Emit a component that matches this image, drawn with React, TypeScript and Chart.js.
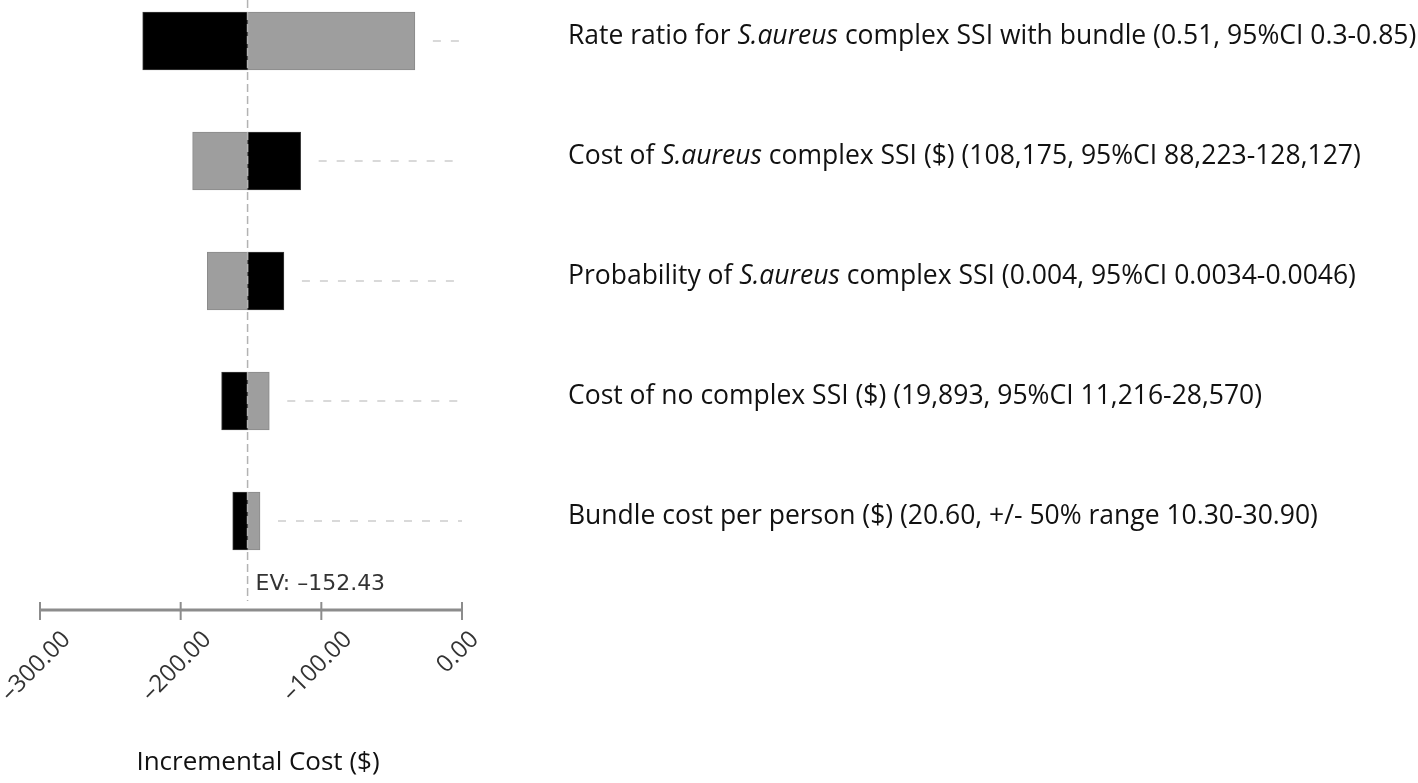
import React, { useEffect, useRef } from "react";
import { Chart, registerables } from "chart.js";

Chart.register(...registerables);

// ---- data ----
const categories: string[] = [
  "Rate ratio for *S.aureus* complex SSI with bundle (0.51, 95%CI 0.3-0.85)",
  "Cost of *S.aureus* complex SSI ($) (108,175, 95%CI 88,223-128,127)",
  "Probability of *S.aureus* complex SSI (0.004, 95%CI 0.0034-0.0046)",
  "Cost of no complex SSI ($) (19,893, 95%CI 11,216-28,570)",
  "Bundle cost per person ($) (20.60, +/- 50% range 10.30-30.90)",
];
const expectedValue = -152.43;
const blackEnds: number[] = [-227, -114.7, -126.6, -170.9, -163];
const grayEnds: number[] = [-33.5, -191.5, -181.1, -137, -143.6];
const tickValues: number[] = [-300, -200, -100, 0];
const axisTitle = "Incremental Cost ($)";

const LABEL_FONT = "'Open Sans', Lato, sans-serif";

function fmt(v: number): string {
  const s = Math.abs(v).toFixed(2);
  return v < 0 ? "\u2013" + s : s;
}

const overlay = {
  id: "tornadoOverlay",
  afterDatasetsDraw(chart: any) {
    const ctx: CanvasRenderingContext2D = chart.ctx;
    const xs = chart.scales.x;
    const ys = chart.scales.y;
    const evX = xs.getPixelForValue(expectedValue);
    const axisY = 610;
    ctx.save();

    // dashed guide lines to the right of each bar
    ctx.strokeStyle = "#d9d9d9";
    ctx.lineWidth = 2;
    ctx.setLineDash([8, 10]);
    categories.forEach((_, i) => {
      const y = ys.getPixelForValue(i);
      const right = Math.max(
        xs.getPixelForValue(blackEnds[i]),
        xs.getPixelForValue(grayEnds[i]),
        evX
      );
      ctx.beginPath();
      ctx.moveTo(right + 18, y);
      ctx.lineTo(xs.getPixelForValue(0), y);
      ctx.stroke();
    });

    // EV vertical dashed line
    ctx.strokeStyle = "#b3b3b3";
    ctx.lineWidth = 1.5;
    ctx.setLineDash([8, 4]);
    ctx.beginPath();
    ctx.moveTo(evX, 0);
    ctx.lineTo(evX, 601);
    ctx.stroke();
    ctx.setLineDash([]);

    // axis line and ticks
    ctx.strokeStyle = "#8c8c8c";
    ctx.lineWidth = 3;
    ctx.beginPath();
    ctx.moveTo(xs.getPixelForValue(tickValues[0]), axisY);
    ctx.lineTo(xs.getPixelForValue(tickValues[tickValues.length - 1]), axisY);
    ctx.stroke();
    ctx.lineWidth = 2;
    tickValues.forEach((v) => {
      const x = xs.getPixelForValue(v);
      ctx.beginPath();
      ctx.moveTo(x, axisY - 8);
      ctx.lineTo(x, axisY + 10);
      ctx.stroke();
    });

    // rotated tick labels
    ctx.fillStyle = "#333";
    ctx.font = `24px ${LABEL_FONT}`;
    ctx.textAlign = "center";
    ctx.textBaseline = "middle";
    tickValues.forEach((v) => {
      const x = xs.getPixelForValue(v);
      const t = fmt(v);
      const L = ctx.measureText(t).width;
      const H = 16;
      const half = (L + H) / (2 * Math.SQRT2);
      ctx.save();
      ctx.translate(x - 4, 630 + half);
      ctx.rotate(-Math.PI / 4);
      ctx.fillText(t, 0, 0);
      ctx.restore();
    });

    // EV label
    ctx.fillStyle = "#333";
    ctx.font = "22px 'DejaVu Sans', sans-serif";
    ctx.textAlign = "left";
    ctx.textBaseline = "alphabetic";
    ctx.fillText("EV: " + fmt(expectedValue), evX + 8, 590);

    // axis title
    ctx.fillStyle = "#111";
    ctx.font = `26px ${LABEL_FONT}`;
    ctx.textAlign = "center";
    ctx.textBaseline = "middle";
    ctx.fillText(axisTitle, 258, 763);

    // category labels with italic parts
    ctx.textAlign = "left";
    ctx.textBaseline = "alphabetic";
    categories.forEach((label, i) => {
      const y = ys.getPixelForValue(i);
      let x = 568;
      label.split("*").forEach((part, k) => {
        ctx.font = `${k % 2 === 1 ? "italic " : ""}26.5px ${LABEL_FONT}`;
        ctx.fillText(part, x, y + 3);
        x += ctx.measureText(part).width;
      });
    });

    ctx.restore();
  },
};

export default function App() {
  const ref = useRef<HTMLCanvasElement | null>(null);
  useEffect(() => {
    if (!ref.current) return;
    const chart = new Chart(ref.current, {
      type: "bar",
      data: {
        datasets: [
          {
            label: "black",
            data: categories.map((_, i) => ({ y: i, x: [expectedValue, blackEnds[i]] })) as any,
            backgroundColor: "#000000",
            borderColor: "#3a3a3a",
            borderWidth: 1,
            borderSkipped: false,
            grouped: false,
            barThickness: 58,
          } as any,
          {
            label: "gray",
            data: categories.map((_, i) => ({ y: i, x: [expectedValue, grayEnds[i]] })) as any,
            backgroundColor: "#9e9e9e",
            borderColor: "#8a8a8a",
            borderWidth: 1,
            borderSkipped: false,
            grouped: false,
            barThickness: 58,
          } as any,
        ],
      },
      options: {
        indexAxis: "y",
        animation: false,
        responsive: false,
        layout: { padding: { left: 40, right: 956, top: 0, bottom: 173 } },
        scales: {
          x: { type: "linear", min: -300, max: 0, display: false },
          y: { type: "linear", min: -0.342, max: 4.742, reverse: true, offset: false, display: false },
        },
        plugins: { legend: { display: false }, tooltip: { enabled: false } },
      },
      plugins: [overlay],
    });
    return () => chart.destroy();
  }, []);
  return (
    <div style={{ position: "fixed", left: 0, top: 0, width: 1418, height: 783, background: "#fff" }}>
      <canvas ref={ref} width={1418} height={783} />
    </div>
  );
}
